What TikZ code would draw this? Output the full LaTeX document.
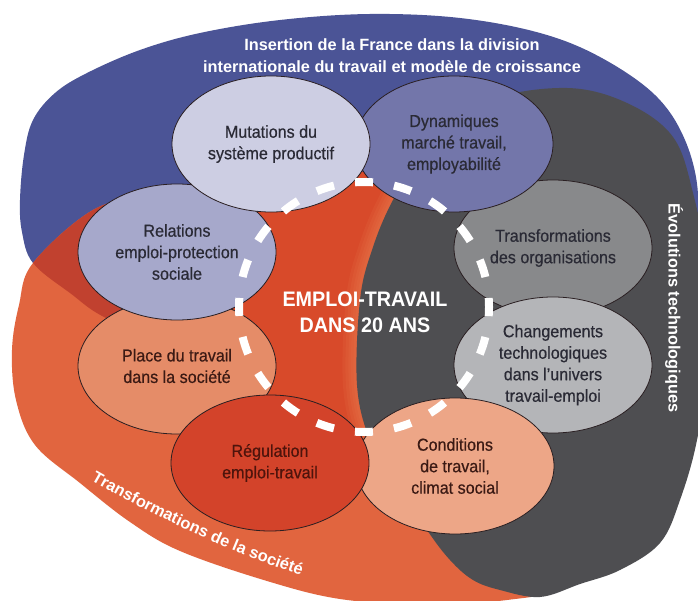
\documentclass[tikz,border=0pt]{standalone}
\usepackage{fontspec}
\setmainfont{Liberation Sans}
\newfontfamily\bubfont{Liberation Sans}[FakeStretch=0.93, FakeBold=0.5]
\newfontfamily\centrefont{Liberation Sans}[FakeStretch=0.94]
\usetikzlibrary{shapes.geometric,decorations.text}
\definecolor{cblue}{HTML}{4B5496}
\definecolor{corange}{HTML}{E1653F}
\definecolor{cover}{HTML}{C1412F}
\definecolor{ccentre}{HTML}{D84A2A}
\definecolor{cglow}{HTML}{EC7F50}
\definecolor{cgrey}{HTML}{4E4E51}
\definecolor{fmut}{HTML}{CDCEE3}
\definecolor{fdyn}{HTML}{7376AA}
\definecolor{frel}{HTML}{A6A8CB}
\definecolor{ftra}{HTML}{88898B}
\definecolor{fcha}{HTML}{B4B5B8}
\definecolor{fpla}{HTML}{E58C68}
\definecolor{freg}{HTML}{D3432A}
\definecolor{fcon}{HTML}{EDA687}
\definecolor{edgec}{HTML}{2A1F22}
\definecolor{txtdark}{HTML}{2A2A35}
\definecolor{txtbrown}{HTML}{3B1A14}
\definecolor{txtred}{HTML}{4E140C}
\begin{document}
\begin{tikzpicture}[x=1pt,y=-1pt]
\tikzset{
  bub/.style={ellipse, draw=edgec, line width=0.8pt, minimum width=198pt,
    minimum height=136pt, inner sep=0pt, align=center,
    font=\bubfont\fontsize{17.3}{21.5}\selectfont, text=txtdark},
  ringstyle/.style={draw=white, line width=8pt, dash pattern=on 18pt off 21.27pt, dash phase=9pt},
  titlestyle/.style={text=white, font=\bfseries\fontsize{16.3}{22}\selectfont, align=center, inner sep=0pt},
  glowstyle/.style={draw=cglow, opacity=0.14}
}
\def\bluepath{plot[smooth cycle, tension=0.6] coordinates {(20,200) (24,155) (33,120) (55,93) (87,73) (140,50) (200,33) (280,20) (370,14) (460,18) (540,33) (600,57) (655,95) (685,140) (698,195) (690,250) (640,310) (540,355) (420,380) (300,375) (200,355) (110,320) (70,293) (33,263) (22,232)}}
\def\orangepath{plot[smooth cycle, tension=0.6] coordinates {(33,263) (19,305) (12,350) (16,400) (35,445) (80,483) (130,522) (180,551) (267,581) (340,599) (420,604) (507,600) (565,585) (610,530) (630,420) (620,320) (565,230) (460,180) (360,172) (250,186) (150,197) (93,210)}}
\def\greypath{plot[smooth cycle, tension=0.6] coordinates {(567,88) (627,103) (673,137) (693,193) (705,260) (708,360) (697,440) (680,500) (660,543) (620,570) (580,584) (540,597) (500,590) (473,580) (450,560) (427,530) (395,480) (370,440) (357,385) (360,300) (372,250) (393,200) (430,140) (490,100)}}
\useasboundingbox (0,0) rectangle (698,601);
\clip (0,0) rectangle (698,601);
\fill[white] (0,0) rectangle (698,601);
% large regions
\fill[cblue] \bluepath;
\fill[corange] \orangepath;
\begin{scope}
  \clip \orangepath;
  \fill[cover] \bluepath;
  \fill[ccentre] (360,305) ellipse [x radius=150pt, y radius=150pt];
  \clip (360,305) ellipse [x radius=150pt, y radius=150pt];
  \draw[glowstyle, line width=28pt] \greypath;
  \draw[glowstyle, line width=22pt] \greypath;
  \draw[glowstyle, line width=16pt] \greypath;
  \draw[glowstyle, line width=11pt] \greypath;
  \draw[glowstyle, line width=6pt] \greypath;
\end{scope}
\fill[cgrey] \greypath;
% ring of themes
\node[bub, fill=ftra] (tra) at (553,248) {Transformations\\des organisations};
\node[bub, fill=fcha] (cha) at (553,365) {Changements\\technologiques\\dans l’univers\\travail-emploi};
\node[bub, fill=fcon, text=txtbrown] (con) at (455,466) {Conditions\\de travail,\\climat social};
\node[bub, fill=fpla, text=txtbrown] (pla) at (177,366) {Place du travail\\dans la société};
\node[bub, fill=freg, text=txtred] (reg) at (270,463) {Régulation\\emploi-travail};
\node[bub, fill=frel] (rel) at (177,252) {Relations\\emploi-protection\\sociale};
\node[bub, fill=fdyn] (dyn) at (454,144) {Dynamiques\\marché travail,\\employabilité};
\node[bub, fill=fmut] (mut) at (271,144) {Mutations du\\système productif};
% dashed ring
\coordinate (ringc) at (364,307);
\draw[ringstyle] (ringc) circle [radius=125pt];
% texts
\node[titlestyle] (title) at (392,56) {Insertion de la France dans la division\\internationale du travail et modèle de croissance};
\node[text=white, font=\centrefont\bfseries\fontsize{21}{26}\selectfont, align=center, inner sep=0pt] (centre) at (365,312) {EMPLOI-TRAVAIL\\DANS 20 ANS};
\node[titlestyle, rotate=-90] (evo) at (674,308) {Évolutions technologiques};
\path[decorate, decoration={text along path, text align=center, text color=white,
  text={|\bfseries\fontsize{16.3}{18}\selectfont|Transformations de la société}}]
  (89,479) .. controls (154,516.5) and (232,553) .. (303,576);
\end{tikzpicture}
\end{document}
